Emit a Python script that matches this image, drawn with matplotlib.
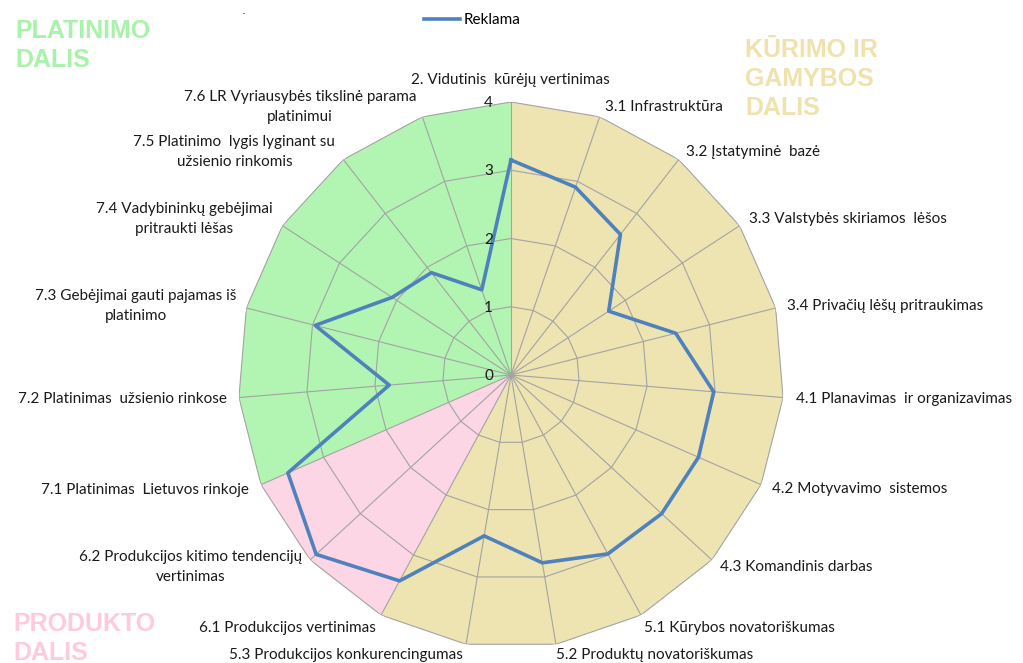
import matplotlib
matplotlib.use("Agg")
import matplotlib.pyplot as plt
import numpy as np

W, H = 1023, 663

categories = [
    "2. Vidutinis  kūrėjų vertinimas",
    "3.1 Infrastruktūra",
    "3.2 Įstatyminė  bazė",
    "3.3 Valstybės skiriamos  lėšos",
    "3.4 Privačių lėšų pritraukimas",
    "4.1 Planavimas  ir organizavimas",
    "4.2 Motyvavimo  sistemos",
    "4.3 Komandinis darbas",
    "5.1 Kūrybos novatoriškumas",
    "5.2 Produktų novatoriškumas",
    "5.3 Produkcijos konkurencingumas",
    "6.1 Produkcijos vertinimas",
    "6.2 Produkcijos kitimo tendencijų\nvertinimas",
    "7.1 Platinimas  Lietuvos rinkoje",
    "7.2 Platinimas  užsienio rinkose",
    "7.3 Gebėjimai gauti pajamas iš\nplatinimo",
    "7.4 Vadybininkų gebėjimai\npritraukti lėšas",
    "7.5 Platinimo  lygis lyginant su\nužsienio rinkomis",
    "7.6 LR Vyriausybės tikslinė parama\nplatinimui",
]

reklama = [3.15, 2.91, 2.61, 1.71, 2.49, 2.98, 3.00, 3.00, 2.98, 2.79,
           2.39, 3.43, 3.88, 3.57, 1.79, 2.96, 2.08, 1.90, 1.32]

r_ticks = [0, 1, 2, 3, 4]
r_max = 4

# background sections: (first spoke, last spoke) by category index
section_names = ["KŪRIMO IR\nGAMYBOS\nDALIS", "PRODUKTO\nDALIS", "PLATINIMO\nDALIS"]
section_spans = [(0, 11), (11, 13), (13, 19)]
section_colors = ["#EEE4B2", "#FCD6E4", "#B2F5B2"]
section_text_colors = ["#EFE2AC", "#FFC9DE", "#A9F2A9"]

# label nudges in pixels (dx, dy up), outward from each spoke tip
label_offsets = [(-1, 22), (5, 10), (7, 8), (9, 7), (11, 2), (13, -1), (11, -4),
                 (8, -7), (3, -13), (0, -11), (-3, -11), (-5, -13), (-8, -7),
                 (-12, -5), (-12, -1), (-10, 2), (-10, 7), (-8, 8), (-6, 10)]

FONT = ["Lato", "DejaVu Sans"]
GRID = "#A3A3A3"
LINE = "#4F81BD"

n = len(categories)
theta = np.arange(n) * 2 * np.pi / n
theta_closed = np.r_[theta, 2 * np.pi]

fig = plt.figure(figsize=(W / 100, H / 100), dpi=100)
cx, cy, rad = 511, 375, 273
ax = fig.add_axes([(cx - rad) / W, (H - cy - rad) / H, 2 * rad / W, 2 * rad / H],
                  projection="polar")
ax.set_theta_zero_location("N")
ax.set_theta_direction(-1)
ax.set_ylim(0, r_max)
ax.grid(False)
ax.set_xticks([])
ax.set_yticks([])
ax.spines["polar"].set_visible(False)
ax.patch.set_visible(False)

# coloured sectors
for (a, b), col in zip(section_spans, section_colors):
    t = np.r_[0, theta_closed[a:b + 1]]
    r = np.r_[0, np.full(b - a + 1, r_max)]
    ax.fill(t, r, color=col, lw=0, zorder=1)

# polygon grid
for k in r_ticks[1:]:
    ax.plot(theta_closed, np.full(n + 1, k), color=GRID, lw=0.8, zorder=2)
for t in theta:
    ax.plot([t, t], [0, r_max], color=GRID, lw=0.8, zorder=2)

vals = np.r_[reklama, reklama[0]]
line, = ax.plot(theta_closed, vals, color=LINE, lw=2.6, zorder=3, label="Reklama")

# category labels
for i, (lab, (dx, dy)) in enumerate(zip(categories, label_offsets)):
    s = np.sin(theta[i])
    ha = "center" if abs(s) < 1e-6 else ("left" if s > 0 else "right")
    ax.annotate(lab, xy=(theta[i], r_max), xytext=(dx, dy), textcoords="offset pixels",
                ha=ha, va="center", multialignment="center", fontsize=11,
                family=FONT, color="#1a1a1a", annotation_clip=False, linespacing=1.55)

# value labels along the first spoke
for k in r_ticks:
    ax.annotate(str(k), xy=(0, k), xytext=(-18, -1), textcoords="offset pixels",
                ha="right", va="center", fontsize=11, family=FONT, color="#1a1a1a",
                annotation_clip=False)

fig.legend(handles=[line], loc="center", bbox_to_anchor=(472 / W, 1 - 20 / H),
           frameon=False, prop={"family": FONT, "size": 11},
           handlelength=2.4, handletextpad=0.2)

# section titles
title_pos = [(745, 57), (13, 631), (15, 38)]
for name, col, (x, y0) in zip(section_names, section_text_colors, title_pos):
    for j, part in enumerate(name.split("\n")):
        fig.text(x / W, 1 - (y0 + 29 * j) / H, part, ha="left", va="baseline",
                 fontsize=18, fontweight="bold", family="Liberation Sans", color=col)

fig.text(242 / W, 1 - 14 / H, ".", fontsize=9, color="#333333")

fig.savefig("out.png", dpi=100)
